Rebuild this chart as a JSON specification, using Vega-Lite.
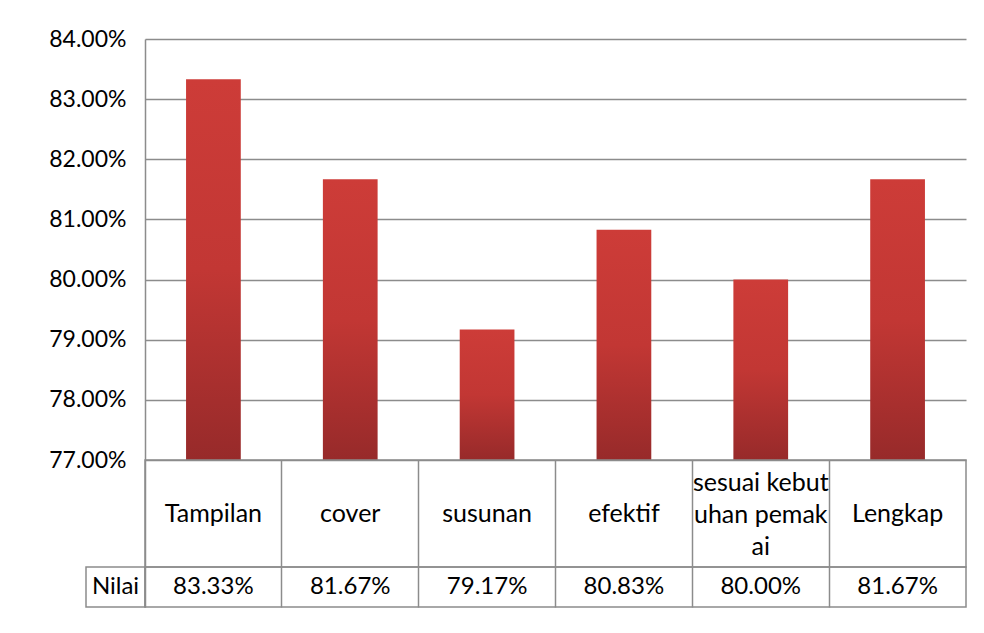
{
  "$schema": "https://vega.github.io/schema/vega-lite/v6.json",
  "background": "white",
  "padding": {"left": 48, "top": 28, "right": 5, "bottom": 5},
  "config": {"font": "Lato", "view": {"stroke": null}},
  "datasets": {
    "nilai": [
      {"kategori": "Tampilan", "label": "Tampilan", "nilai": 0.8333},
      {"kategori": "cover", "label": "cover", "nilai": 0.8167},
      {"kategori": "susunan", "label": "susunan", "nilai": 0.7917},
      {"kategori": "efektif", "label": "efektif", "nilai": 0.8083},
      {"kategori": "sesuai kebutuhan pemakai", "label": "sesuai kebut\nuhan pemak\nai", "nilai": 0.80},
      {"kategori": "Lengkap", "label": "Lengkap", "nilai": 0.8167}
    ]
  },
  "columns": 2,
  "bounds": "flush",
  "spacing": 0,
  "concat": [
    {
      "width": 59, "height": 421,
      "data": {"values": [{}]},
      "mark": {"type": "text", "text": ""},
      "encoding": {}
    },
    {
      "width": 821, "height": 421,
      "data": {"name": "nilai"},
      "mark": {
        "type": "bar",
        "color": {
          "gradient": "linear", "x1": 0, "y1": 0, "x2": 0, "y2": 1,
          "stops": [
            {"offset": 0, "color": "#cd3c38"},
            {"offset": 0.5, "color": "#c23734"},
            {"offset": 1, "color": "#972a2a"}
          ]
        }
      },
      "encoding": {
        "x": {
          "field": "kategori", "type": "nominal", "sort": null,
          "scale": {"paddingInner": 0.6, "paddingOuter": 0.3},
          "axis": null
        },
        "y": {
          "field": "nilai", "type": "quantitative",
          "scale": {"domain": [0.77, 0.84], "zero": false, "nice": false},
          "axis": {
            "values": [0.77, 0.78, 0.79, 0.80, 0.81, 0.82, 0.83, 0.84],
            "format": ".2%", "grid": true, "gridColor": "#8c8c8c", "gridWidth": 1.5,
            "domain": true, "domainColor": "#8c8c8c", "domainWidth": 1.5,
            "ticks": false, "labelPadding": 19, "labelFontSize": 23,
            "labelColor": "#000000", "title": null
          }
        },
        "y2": {"datum": 0.77}
      }
    },
    {
      "width": 59, "height": 107,
      "data": {"values": [{}]},
      "mark": {"type": "text", "text": ""},
      "encoding": {}
    },
    {
      "width": 821, "height": 107,
      "data": {"name": "nilai"},
      "encoding": {
        "x": {
          "field": "kategori", "type": "nominal",
          "sort": ["Tampilan", "cover", "susunan", "efektif", "sesuai kebutuhan pemakai", "Lengkap"],
          "scale": {"type": "band", "padding": 0},
          "axis": {
            "grid": true, "bandPosition": 0, "gridColor": "#8c8c8c", "gridWidth": 1.5,
            "labels": false, "ticks": false, "domain": false, "title": null
          }
        },
        "text": {"field": "label"}
      },
      "layer": [
        {
          "transform": [{"filter": "datum.kategori != 'sesuai kebutuhan pemakai'"}],
          "mark": {"type": "text", "fontSize": 25, "color": "#000000"}
        },
        {
          "transform": [{"filter": "datum.kategori == 'sesuai kebutuhan pemakai'"}],
          "mark": {"type": "text", "fontSize": 25, "lineBreak": "\n", "lineHeight": 32, "dy": -31, "color": "#000000"}
        }
      ],
      "view": {"stroke": "#8c8c8c", "strokeWidth": 1.5}
    },
    {
      "width": 59, "height": 40,
      "data": {"values": [{"t": "Nilai"}]},
      "mark": {"type": "text", "fontSize": 24, "color": "#000000"},
      "encoding": {"text": {"field": "t"}},
      "view": {"stroke": "#8c8c8c", "strokeWidth": 1.5}
    },
    {
      "width": 821, "height": 40,
      "data": {"name": "nilai"},
      "mark": {"type": "text", "fontSize": 24, "color": "#000000"},
      "encoding": {
        "x": {
          "field": "kategori", "type": "nominal", "sort": null,
          "scale": {"type": "band", "padding": 0},
          "axis": {
            "grid": true, "bandPosition": 0, "gridColor": "#8c8c8c", "gridWidth": 1.5,
            "labels": false, "ticks": false, "domain": false, "title": null
          }
        },
        "text": {"field": "nilai", "format": ".2%"}
      },
      "view": {"stroke": "#8c8c8c", "strokeWidth": 1.5}
    }
  ]
}
